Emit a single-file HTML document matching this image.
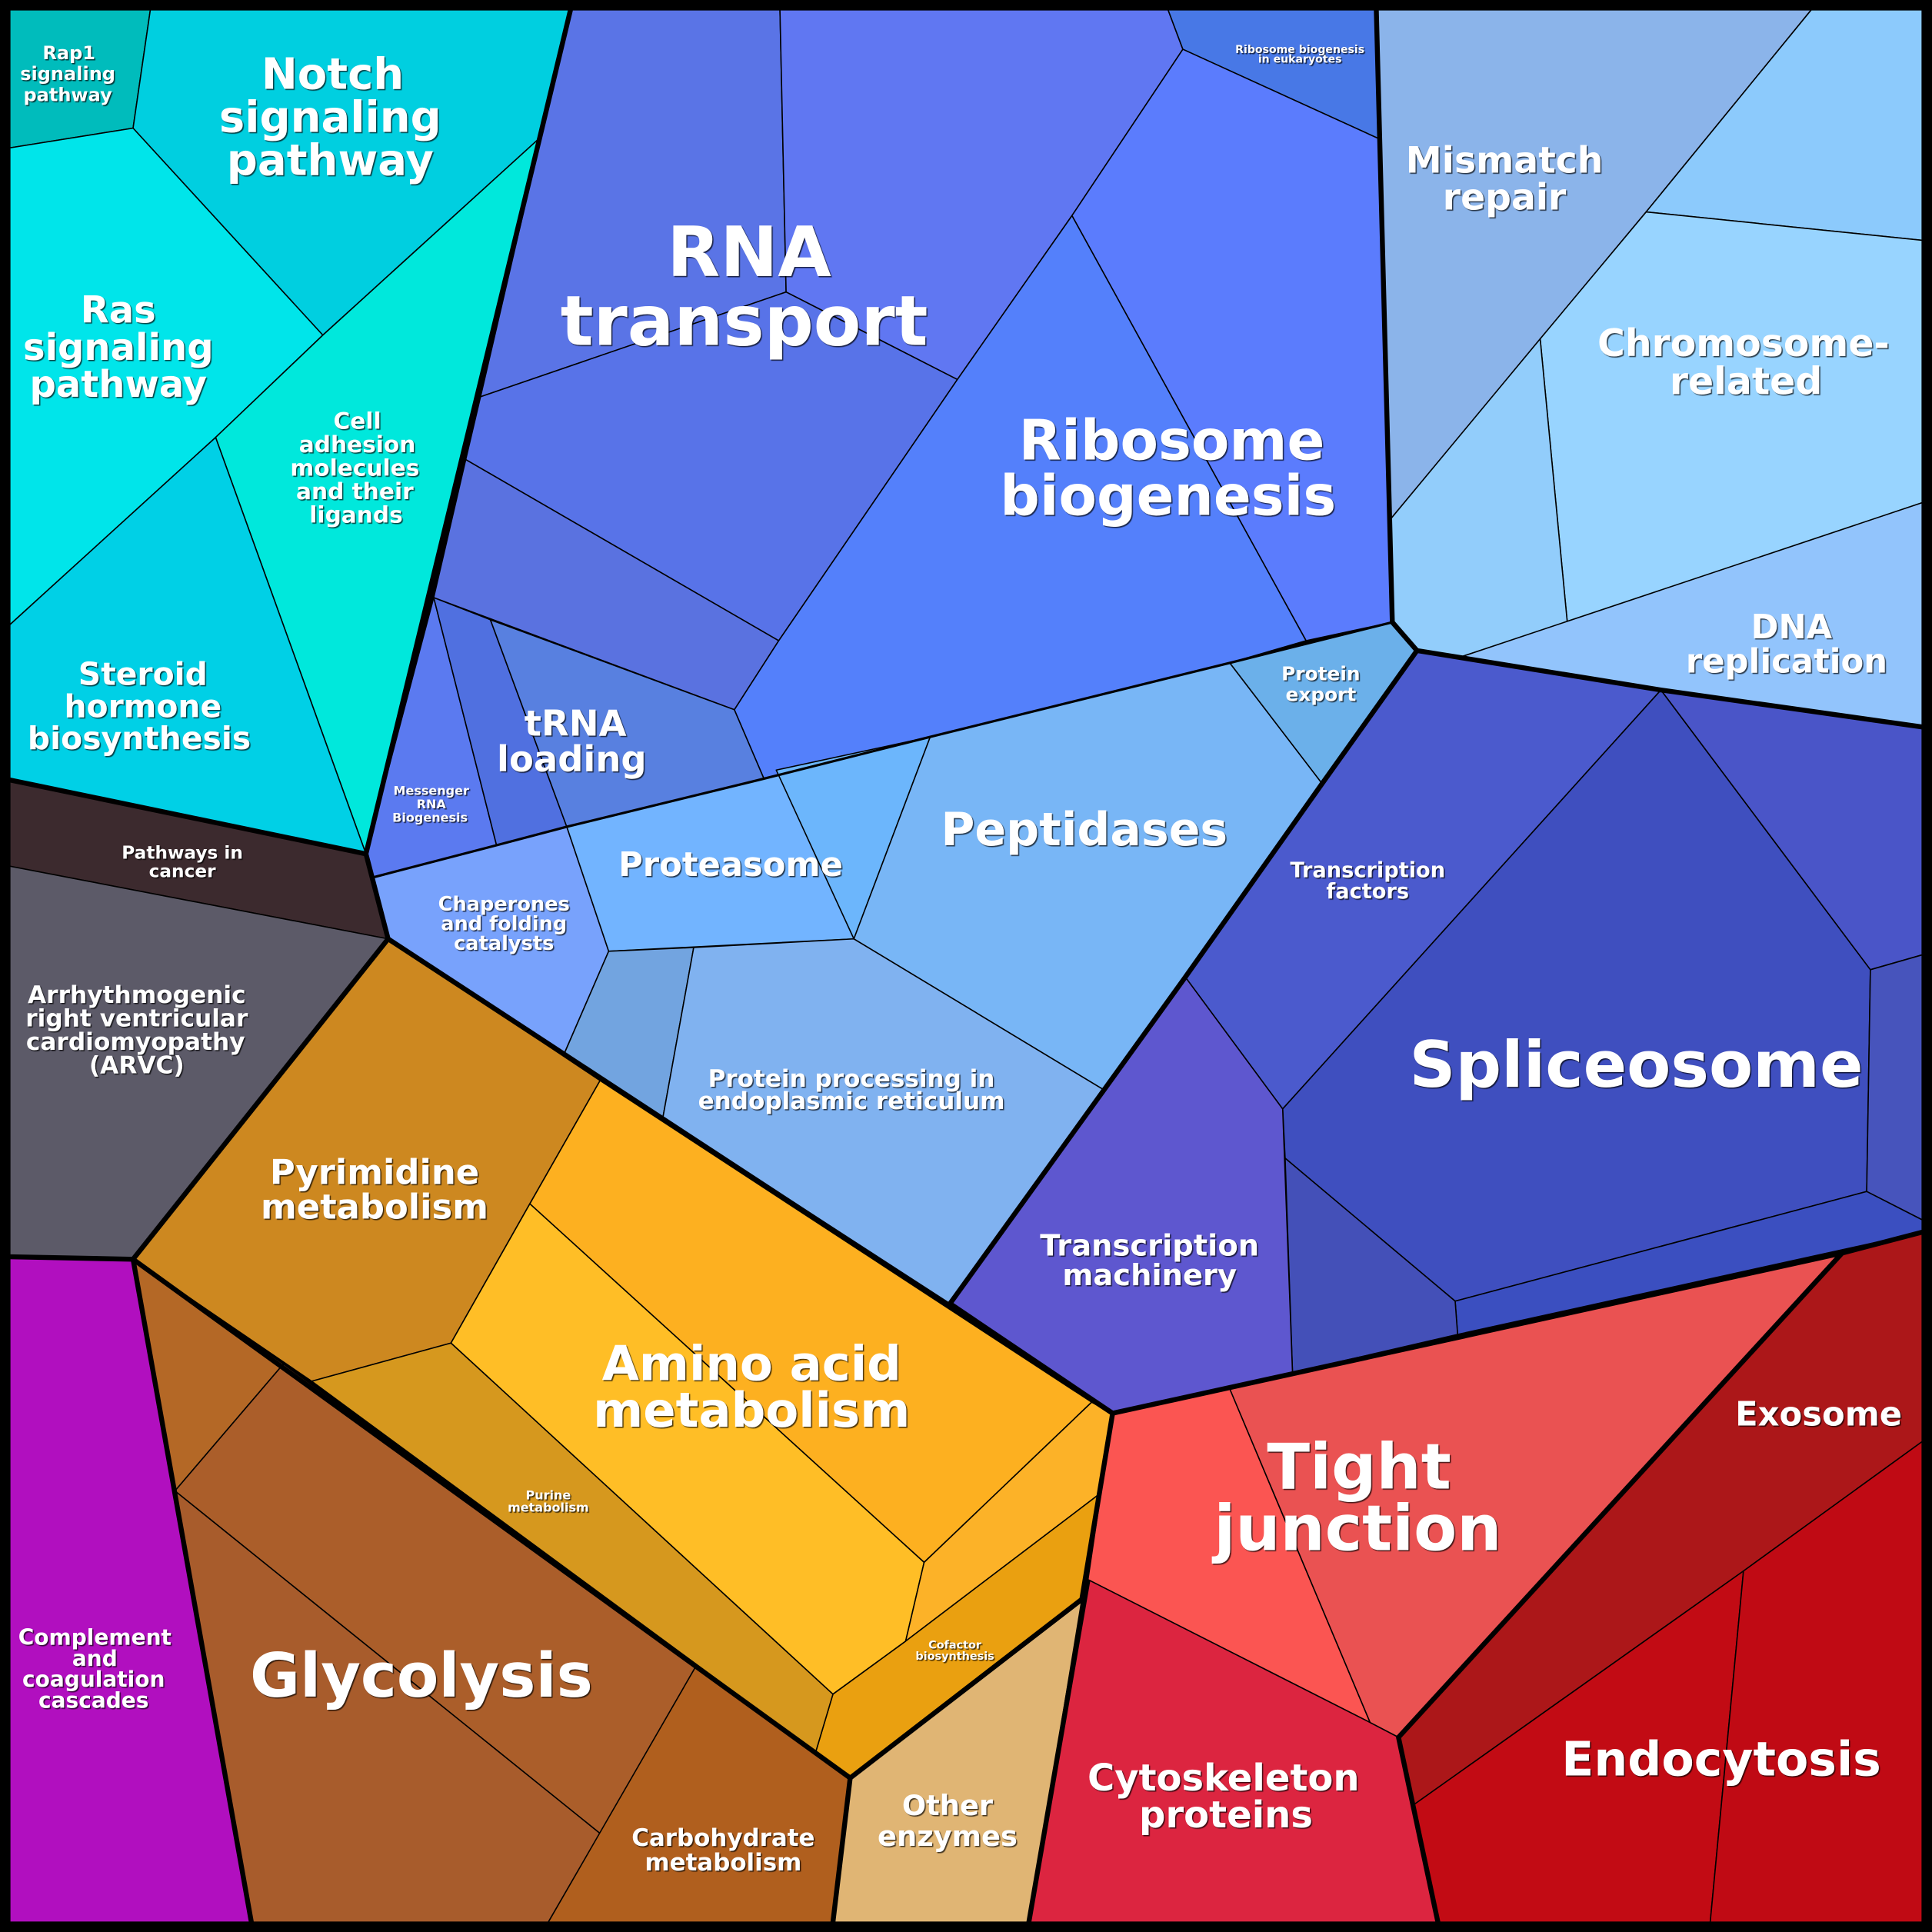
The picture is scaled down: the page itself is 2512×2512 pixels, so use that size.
<!DOCTYPE html>
<html><head><meta charset="utf-8"><style>
html,body{margin:0;padding:0;background:#000}
svg{display:block}
text{font-family:"DejaVu Sans","Liberation Sans",sans-serif;font-weight:bold;fill:#fff;text-anchor:middle;text-shadow:1.5px 1.5px 1px rgba(0,0,0,.7)}
</style></head><body>
<svg width="2512" height="2512" viewBox="0 0 1568 1568" xmlns="http://www.w3.org/2000/svg">
<rect x="0" y="0" width="1568" height="1568" fill="#000"/>
<g stroke="#000" stroke-width="1" stroke-linejoin="round">
<polygon points="8,8 122,8 108,104 8,120" fill="#00bcbc"/>
<polygon points="122,8 463,8 438,112 262,272 108,104" fill="#00cfe0"/>
<polygon points="8,120 108,104 262,272 175,355 8,507" fill="#00e5ea"/>
<polygon points="262,272 438,112 297,693 175,355" fill="#00e8dc"/>
<polygon points="8,507 175,355 297,693 8,633" fill="#00d0e6"/>
<polygon points="8,633 297,693 315,762 8,703" fill="#3c2a2e"/>
<polygon points="8,703 315,762 108,1022 8,1020" fill="#5c5a68"/>
<polygon points="8,1020 108,1022 204,1560 8,1560" fill="#b10fbf"/>

<polygon points="463,8 633,8 638,237 390,322" fill="#5a74e6"/>
<polygon points="633,8 948,8 960,40 870,175 777,308 638,237" fill="#6077f2"/>
<polygon points="390,322 638,237 777,308 632,520 378,373" fill="#5873e8"/>
<polygon points="378,373 632,520 596,576 352,485" fill="#5a72e0"/>
<polygon points="948,8 1117,8 1120,113 960,40" fill="#4878e6"/>
<polygon points="870,175 960,40 1120,113 1130,505 1060,520" fill="#5b7cfd"/>
<polygon points="870,175 1060,520 998,538 755,598 620,632 596,576 632,520 777,308" fill="#5480fb"/>
<polygon points="352,485 403,686 303,712 297,693" fill="#5b7af0"/>
<polygon points="352,485 398,503 460,671 403,686" fill="#5070e0"/>
<polygon points="398,503 596,576 620,632 460,671" fill="#5880e0"/>
<polygon points="998,538 1130,505 1150,528 1073,636" fill="#6bb0ea"/>

<polygon points="303,712 403,686 460,671 494,772 458,855 315,762" fill="#78a2fc"/>
<polygon points="460,671 620,632 755,598 693,762 494,772" fill="#72b4ff"/>
<polygon points="630,625 755,598 693,762" fill="#6cb6fc"/>
<polygon points="755,598 998,538 1073,636 962,793 895,884 693,762" fill="#78b6f6"/>
<polygon points="494,772 563,769 538,907 458,855" fill="#72a4e0"/>
<polygon points="563,769 693,762 895,884 771,1058 538,907" fill="#80b2f0"/>

<polygon points="1150,528 1348,560 1041,900 962,793 1073,636" fill="#4b5acd"/>
<polygon points="1348,560 1518,787 1515,967 1181,1056 1043,940 1041,900" fill="#3f4fbf"/>
<polygon points="1348,560 1560,590 1560,775 1518,787" fill="#4a55c8"/>
<polygon points="1518,787 1560,775 1560,990 1515,967" fill="#4754bc"/>
<polygon points="1515,967 1560,990 1560,1000 1183,1083 1181,1056" fill="#3b4fc0"/>
<polygon points="1043,940 1181,1056 1183,1083 1049,1114" fill="#4450b8"/>
<polygon points="962,793 1041,900 1049,1114 903,1147 771,1058" fill="#5e57cf"/>

<polygon points="1117,8 1470,8 1336,172 1128,422" fill="#8bb4ea"/>
<polygon points="1470,8 1560,8 1560,195 1336,172" fill="#8ccafc"/>
<polygon points="1336,172 1560,195 1560,408 1272,505 1250,275" fill="#98d4ff"/>
<polygon points="1128,422 1250,275 1272,505 1186,533 1150,528 1130,505" fill="#92cdfb"/>
<polygon points="1186,533 1560,408 1560,590 1348,560 1150,528" fill="#92c4fc"/>

<polygon points="315,762 487,877 430,977 366,1090 253,1121 108,1022" fill="#cd8820"/>
<polygon points="487,877 886,1138 750,1268 430,977" fill="#fdb020"/>
<polygon points="430,977 750,1268 735,1332 676,1375 366,1090" fill="#ffbe26"/>
<polygon points="886,1138 903,1147 893,1212 735,1332 750,1268" fill="#fcb228"/>
<polygon points="735,1332 893,1212 878,1298 690,1443 662,1422 676,1375" fill="#eaa010"/>
<polygon points="253,1121 366,1090 676,1375 662,1422" fill="#d6981e"/>
<polygon points="108,1022 230,1107 142,1210" fill="#b46826"/>
<polygon points="230,1107 565,1352 487,1488 142,1210" fill="#ab5e2a"/>
<polygon points="142,1210 487,1488 445,1560 204,1560" fill="#a85c2c"/>
<polygon points="565,1352 690,1443 676,1560 445,1560" fill="#b05f1e"/>
<polygon points="690,1443 878,1298 835,1560 676,1560" fill="#e0b574"/>

<polygon points="903,1147 998,1127 1112,1398 883,1282" fill="#fb5552"/>
<polygon points="998,1127 1495,1017 1135,1410 1112,1398" fill="#ea5252"/>
<polygon points="883,1282 1112,1398 1135,1410 1167,1560 835,1560" fill="#dc2540"/>
<polygon points="1495,1017 1560,1000 1560,1170 1415,1275 1147,1465 1135,1410" fill="#ac1719"/>
<polygon points="1147,1465 1415,1275 1388,1560 1167,1560" fill="#c20b14"/>
<polygon points="1415,1275 1560,1170 1560,1560 1388,1560" fill="#c00a14"/>
</g>
<g fill="none" stroke="#000" stroke-width="2">
<polyline points="303,712 403,686 460,671 620,632 755,598 998,538 1130,505"/>
</g>
<g fill="none" stroke="#000" stroke-width="4" stroke-linejoin="round">
<polyline points="463,8 438,112 297,693 315,762 108,1022 204,1560"/>
<polyline points="8,633 297,693"/>
<polyline points="8,1020 108,1022"/>
<polyline points="315,762 903,1147 1495,1017 1560,1000"/>
<polyline points="108,1022 690,1443 676,1560"/>
<polyline points="690,1443 878,1298 903,1147"/>
<polyline points="835,1560 883,1282"/>
<polyline points="1167,1560 1135,1410 1495,1017"/>
<polyline points="903,1147 771,1058 962,793 1073,636 1150,528 1348,560 1560,590"/>
<polyline points="1150,528 1130,505 1117,8"/>
</g>
<rect x="4" y="4" width="1560" height="1560" fill="none" stroke="#000" stroke-width="8"/>

<g>
<text font-size="15" x="56" y="48">Rap1</text>
<text font-size="15" x="55" y="65">signaling</text>
<text font-size="15" x="55" y="82">pathway</text>
<text font-size="35" x="270" y="72">Notch</text>
<text font-size="35" x="268" y="107">signaling</text>
<text font-size="35" x="268" y="142">pathway</text>
<text font-size="30" x="96" y="262">Ras</text>
<text font-size="30" x="96" y="292">signaling</text>
<text font-size="30" x="96" y="322">pathway</text>
<text font-size="18.5" x="290" y="348">Cell</text>
<text font-size="18.5" x="290" y="367">adhesion</text>
<text font-size="18.5" x="288" y="386">molecules</text>
<text font-size="18.5" x="288" y="405">and their</text>
<text font-size="18.5" x="289" y="424">ligands</text>
<text font-size="25.5" x="116" y="556">Steroid</text>
<text font-size="25.5" x="116" y="582">hormone</text>
<text font-size="25.5" x="113" y="608">biosynthesis</text>
<text font-size="14.5" x="148" y="697">Pathways in</text>
<text font-size="14.5" x="148" y="712">cancer</text>
<text font-size="19.5" x="111" y="814">Arrhythmogenic</text>
<text font-size="19.5" x="111" y="833">right ventricular</text>
<text font-size="19.5" x="110" y="852">cardiomyopathy</text>
<text font-size="19.5" x="111" y="871">(ARVC)</text>
<text font-size="17.5" x="77" y="1335">Complement</text>
<text font-size="17.5" x="77" y="1352">and</text>
<text font-size="17.5" x="76" y="1369">coagulation</text>
<text font-size="17.5" x="76" y="1386">cascades</text>
<text font-size="56" x="608" y="224">RNA</text>
<text font-size="56" x="604" y="280">transport</text>
<text font-size="8.8" x="1055" y="43" font-weight="normal">Ribosome biogenesis</text>
<text font-size="8.8" x="1055" y="51" font-weight="normal">in eukaryotes</text>
<text font-size="45" x="951" y="373">Ribosome</text>
<text font-size="45" x="948" y="418">biogenesis</text>
<text font-size="29" x="467" y="597">tRNA</text>
<text font-size="29" x="464" y="626">loading</text>
<text font-size="10" x="350" y="645" font-weight="normal">Messenger</text>
<text font-size="10" x="350" y="656" font-weight="normal">RNA</text>
<text font-size="10" x="349" y="667" font-weight="normal">Biogenesis</text>
<text font-size="15.5" x="1072" y="552">Protein</text>
<text font-size="15.5" x="1072" y="569">export</text>
<text font-size="16" x="409" y="739">Chaperones</text>
<text font-size="16" x="409" y="755">and folding</text>
<text font-size="16" x="409" y="771">catalysts</text>
<text font-size="27" x="593" y="711">Proteasome</text>
<text font-size="37.5" x="880" y="686">Peptidases</text>
<text font-size="19.4" x="691" y="882">Protein processing in</text>
<text font-size="19.4" x="691" y="900">endoplasmic reticulum</text>
<text font-size="17" x="1110" y="712">Transcription</text>
<text font-size="17" x="1110" y="729">factors</text>
<text font-size="52" x="1328" y="882">Spliceosome</text>
<text font-size="24" x="933" y="1019">Transcription</text>
<text font-size="24" x="933" y="1043">machinery</text>
<text font-size="29.5" x="1221" y="140">Mismatch</text>
<text font-size="29.5" x="1221" y="170">repair</text>
<text font-size="30.5" x="1415" y="289">Chromosome-</text>
<text font-size="30.5" x="1417" y="320">related</text>
<text font-size="27" x="1454" y="518">DNA</text>
<text font-size="27" x="1450" y="546">replication</text>
<text font-size="28" x="304" y="961">Pyrimidine</text>
<text font-size="28" x="304" y="989">metabolism</text>
<text font-size="39" x="610" y="1120">Amino acid</text>
<text font-size="39" x="610" y="1158">metabolism</text>
<text font-size="10" x="445" y="1217" font-weight="normal">Purine</text>
<text font-size="10" x="445" y="1227" font-weight="normal">metabolism</text>
<text font-size="9" x="775" y="1338" font-weight="normal">Cofactor</text>
<text font-size="9" x="775" y="1347" font-weight="normal">biosynthesis</text>
<text font-size="49.5" x="342" y="1377">Glycolysis</text>
<text font-size="19.3" x="587" y="1498">Carbohydrate</text>
<text font-size="19.3" x="587" y="1518">metabolism</text>
<text font-size="23" x="769" y="1473">Other</text>
<text font-size="23" x="769" y="1498">enzymes</text>
<text font-size="51" x="1103" y="1208">Tight</text>
<text font-size="51" x="1102" y="1258">junction</text>
<text font-size="27" x="1476" y="1157">Exosome</text>
<text font-size="30" x="993" y="1453">Cytoskeleton</text>
<text font-size="30" x="995" y="1483">proteins</text>
<text font-size="38.5" x="1397" y="1441">Endocytosis</text>
</g>
</svg>
</body></html>
